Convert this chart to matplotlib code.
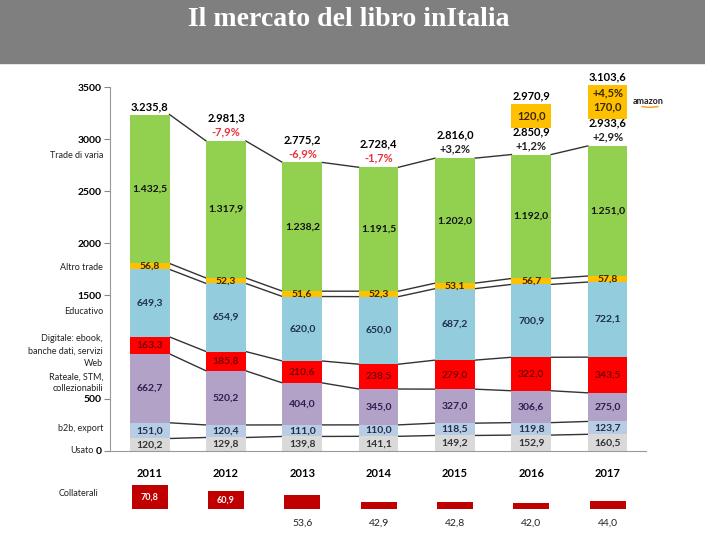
import matplotlib

matplotlib.use("Agg")
import matplotlib.pyplot as plt
import numpy as np
from matplotlib.patches import Arc, Rectangle
from matplotlib.transforms import blended_transform_factory

plt.rcParams.update({
    "font.family": ["Lato", "DejaVu Sans"],
    "font.size": 7.5,
})

# ---------------------------------------------------------------- data
years = ["2011", "2012", "2013", "2014", "2015", "2016", "2017"]

usato = [120.2, 129.8, 139.8, 141.1, 149.2, 152.9, 160.5]
b2b_export = [151.0, 120.4, 111.0, 110.0, 118.5, 119.8, 123.7]
rateale = [662.7, 520.2, 404.0, 345.0, 327.0, 306.6, 275.0]
digitale = [163.3, 185.8, 210.6, 238.5, 279.0, 322.0, 343.5]
educativo = [649.3, 654.9, 620.0, 650.0, 687.2, 700.9, 722.1]
altro_trade = [56.8, 52.3, 51.6, 52.3, 53.1, 56.7, 57.8]
trade_varia = [1432.5, 1317.9, 1238.2, 1191.5, 1202.0, 1192.0, 1251.0]

totali = [3235.8, 2981.3, 2775.2, 2728.4, 2816.0, 2850.9, 2933.6]
variazioni = [None, -7.9, -6.9, -1.7, 3.2, 1.2, 2.9]

# amazon (solo 2016 e 2017)
amazon = [None, None, None, None, None, 120.0, 170.0]
totali_amazon = [None, None, None, None, None, 2970.9, 3103.6]
variazioni_amazon = [None, None, None, None, None, None, 4.5]

collaterali = [70.8, 60.9, 53.6, 42.9, 42.8, 42.0, 44.0]

segments = [
    ("Usato", usato, "#d9d9d9", "#333333"),
    ("b2b, export", b2b_export, "#b8cce4", "#1f2f4f"),
    ("Rateale, STM,\ncollezionabili", rateale, "#b3a2c7", "#2a1f4f"),
    ("Digitale: ebook,\nbanche dati, servizi\nWeb", digitale, "#ff0000", "#7a0000"),
    ("Educativo", educativo, "#93cddd", "#1f2f4f"),
    ("Altro trade", altro_trade, "#ffc000", "#3a2a00"),
    ("Trade di varia", trade_varia, "#92d050", "#111111"),
]
# y (data units) where each category name sits on the left
label_y = [0, 212, 655, 962, 1337, 1760, 2846]

AMAZON_GAP = 260       # distance between bar top and amazon box
AMAZON_SCALE = 1.9     # amazon box drawn enlarged


def fmt(v):
    s = f"{v:,.1f}"
    return s.replace(",", "X").replace(".", ",").replace("X", ".")


def fmt_pct(p):
    return f"{p:+.1f}%".replace(".", ",")


fig = plt.figure(figsize=(7.05, 5.36), dpi=100)

# title banner
fig.patches.append(Rectangle((0, 1 - 63 / 536), 1, 63 / 536, transform=fig.transFigure,
                             color="#7f7f7f", zorder=0))
fig.text(0.494, 1 - 19 / 536, "Il mercato del libro inItalia", color="white",
         family="Liberation Serif", weight="bold", fontsize=20, ha="center", va="center")

ax = fig.add_axes([0.156, 0.1586, 0.76, 0.679])
x = np.arange(len(years))
w = 0.52

bottom = np.zeros(len(years))
levels = []
for name, vals, color, tcolor in segments:
    vals = np.array(vals)
    ax.bar(x, vals, w, bottom=bottom, color=color, zorder=2)
    for xi, b, v in zip(x, bottom, vals):
        ax.text(xi, b + v / 2, fmt(v), ha="center", va="center", color=tcolor,
                fontsize=7.5, weight="bold", zorder=3)
    bottom = bottom + vals
    levels.append(bottom.copy())

# connecting lines between bars
for lev in levels:
    for i in range(len(years) - 1):
        ax.plot([x[i] + w / 2, x[i + 1] - w / 2], [lev[i], lev[i + 1]],
                color="#333333", lw=1.0, zorder=1)

# totals and variations
for i, (tot, var) in enumerate(zip(totali, variazioni)):
    if var is None:
        ax.annotate(fmt(tot), (x[i], tot), xytext=(0, 2), textcoords="offset pixels",
                    ha="center", va="bottom", weight="bold", fontsize=8,
                    annotation_clip=False)
        continue
    pc = "#e8323c" if var < 0 else "#222222"
    ax.annotate(fmt_pct(var), (x[i], tot), xytext=(0, 9), textcoords="offset pixels",
                ha="center", va="center", color=pc, weight="bold", fontsize=8,
                annotation_clip=False)
    ax.annotate(fmt(tot), (x[i], tot), xytext=(0, 23), textcoords="offset pixels",
                ha="center", va="center", weight="bold", fontsize=8,
                annotation_clip=False)

# amazon boxes
for i, (amz, tot_a, var_a) in enumerate(zip(amazon, totali_amazon, variazioni_amazon)):
    if amz is None:
        continue
    b0 = totali[i] + AMAZON_GAP
    h = amz * AMAZON_SCALE
    ax.bar(x[i], h, w, bottom=b0, color="#ffc000", zorder=2, clip_on=False)
    if var_a is None:
        ax.text(x[i], b0 + h / 2, fmt(amz), ha="center", va="center",
                weight="bold", fontsize=8, color="#3a2a00", zorder=3)
    else:
        ax.text(x[i], b0 + h * 0.78, fmt_pct(var_a), ha="center", va="center",
                weight="bold", fontsize=8, color="#3a2a00", zorder=3)
        ax.text(x[i], b0 + h * 0.36, fmt(amz), ha="center", va="center",
                weight="bold", fontsize=8, color="#3a2a00", zorder=3)
    ax.annotate(fmt(tot_a), (x[i], b0 + h), xytext=(0, 8), textcoords="offset pixels",
                ha="center", va="center", weight="bold", fontsize=8,
                annotation_clip=False)

fig.text(0.898, 1 - 101 / 536, "amazon", fontsize=6.5, weight="bold", color="#222222",
         ha="left", va="center")
fig.patches.append(Arc((0.922, 1 - 104 / 536), 0.036, 0.012, theta1=200, theta2=340,
                       transform=fig.transFigure, color="#f39c12", lw=1.0))

# axes styling
ax.set_xlim(-0.52, 6.5)
ax.set_ylim(0, 3500)
ax.set_yticks([0, 500, 1500, 2000, 2500, 3000, 3500])
ax.set_yticklabels(["0", "500", "1500", "2000", "2500", "3000", "3500"], weight="bold")
ax.set_xticks(x)
ax.set_xticklabels(years, weight="bold", fontsize=8)
ax.tick_params(axis="x", length=0, pad=12)
ax.tick_params(axis="y", length=4, color="#888888", pad=2)
for s in ("top", "right"):
    ax.spines[s].set_visible(False)
for s in ("left", "bottom"):
    ax.spines[s].set_color("#999999")

trans = blended_transform_factory(ax.transAxes, ax.transData)
for (name, _, _, _), yl in zip(segments, label_y):
    xl = -0.03 if name == "Usato" else -0.013
    ax.text(xl, yl, name, transform=trans, ha="right", va="center",
            fontsize=6.5, linespacing=1.45, color="#222222")

# collaterali row
cax = fig.add_axes([0.156, 0.0504, 0.76, 0.047])
cax.bar(x, collaterali, 0.47, color="#c00000")
cax.set_xlim(-0.52, 6.5)
cax.set_ylim(32, 72)
cax.axis("off")
for xi, v in zip(x, collaterali):
    if v > 60:
        cax.text(xi, (32 + v) / 2, fmt(v), ha="center", va="center", color="white",
                 fontsize=6.5, weight="bold")
    else:
        cax.annotate(fmt(v), (xi, 32), xytext=(0, -14), textcoords="offset pixels",
                     ha="center", va="center", color="#222222", annotation_clip=False)
fig.text(98 / 705, 1 - 493 / 536, "Collaterali", ha="right", va="center", fontsize=6.5,
         color="#222222")

fig.savefig("out.png", dpi=100)
